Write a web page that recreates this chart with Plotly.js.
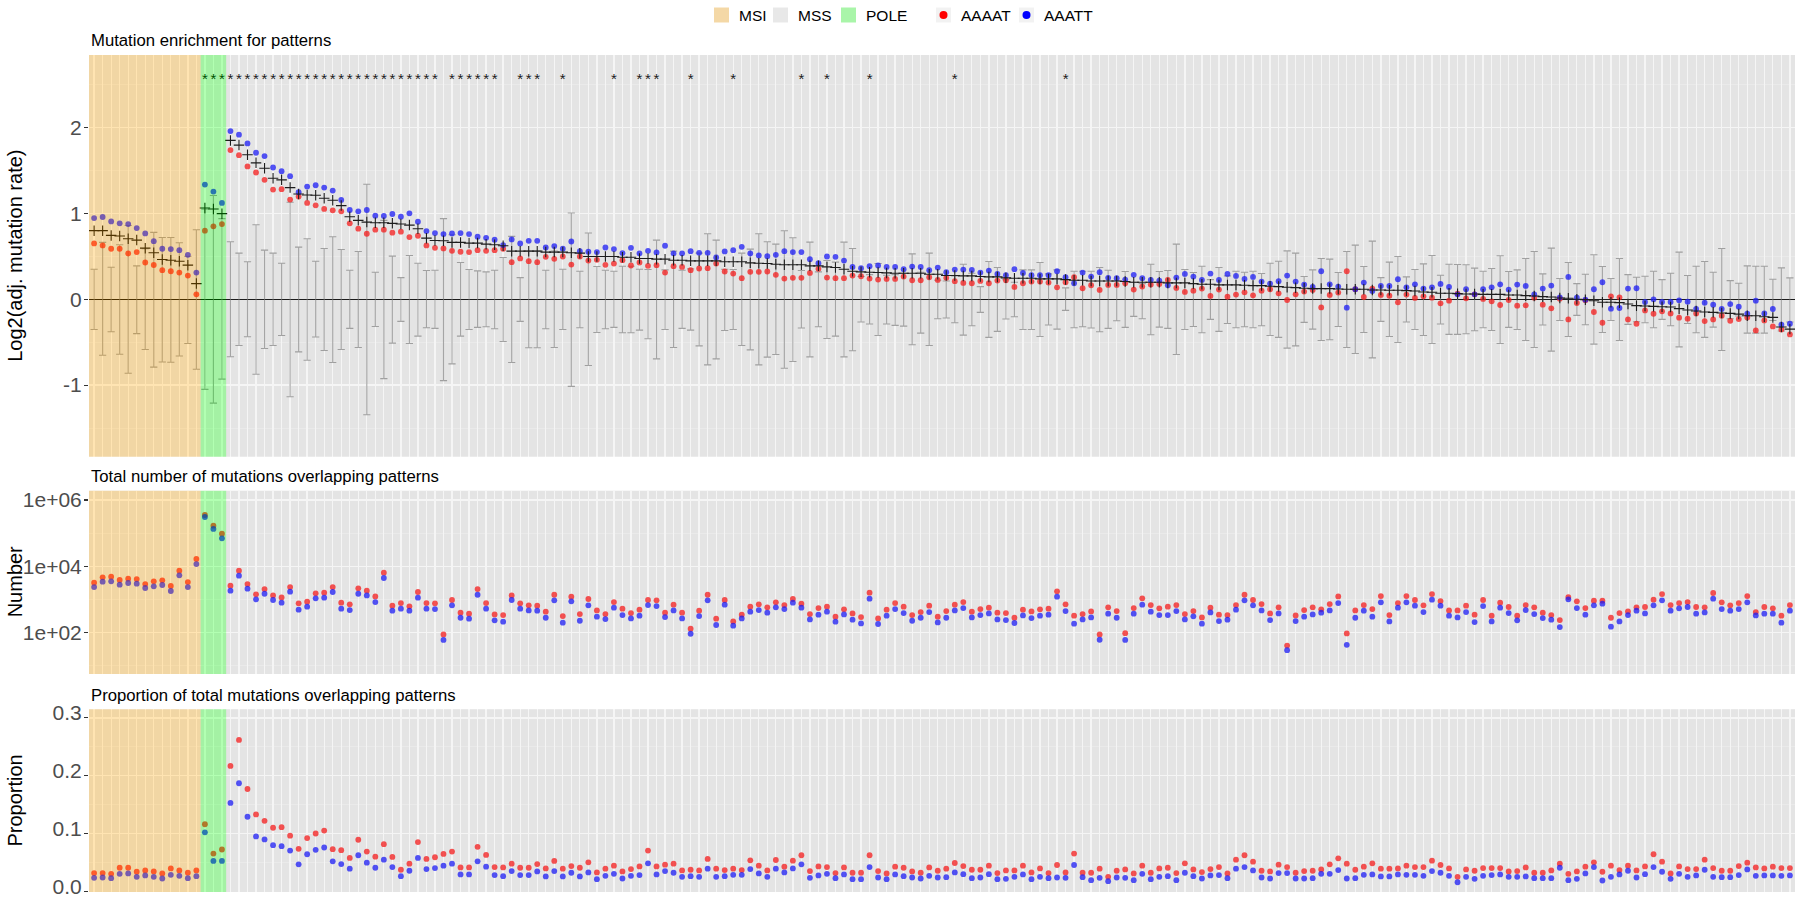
<!DOCTYPE html>
<html>
<head>
<meta charset="utf-8">
<script src="https://cdn.plot.ly/plotly-3.0.1.min.js"></script>
<style>
  html, body { margin: 0; padding: 0; background: #ffffff; }
  #chart { width: 1800px; height: 900px; }
</style>
</head>
<body>
<div id="chart"></div>
<script>
// ---------------- DATA ----------------
// Sample groups, in plotting order
const groupNames = ["MSI", "POLE", "MSS"];
const groupSizes = [13, 3, 184];
const legendGroups = ["MSI", "MSS", "POLE"];
const patterns = ["AAAAT", "AAATT"];

// Panel 1: log2(adjusted mutation rate)
const enrichAAAAT = [
  0.651,0.628,0.589,0.589,0.534,0.55,0.429,0.40,0.339,0.327,0.312,0.277,0.058,
  0.80,0.85,0.877,
  1.739,1.68,1.548,1.478,1.392,1.279,1.283,1.162,1.197,1.123,1.095,1.053,1.037,1.025,0.885,0.823,0.764,0.811,0.811,0.776,0.788,0.725,0.741,0.628,0.60,0.593,0.565,
  0.554,0.550,0.573,0.565,0.573,0.589,0.433,0.476,0.444,0.433,0.495,0.472,0.499,0.405,0.499,0.452,0.460,0.402,0.417,0.456,0.394,0.429,0.390,0.398,0.312,0.386,0.378,0.339,0.359,0.363,0.417,0.324,0.300,0.246,0.320,0.320,0.324,0.285,0.242,0.250,0.250,0.308,0.355,0.253,0.246,0.246,
  0.277,0.269,0.242,0.230,0.238,0.238,0.265,0.222,0.222,0.257,0.226,0.250,0.211,0.191,0.187,0.214,0.187,0.218,0.222,0.144,0.187,0.207,0.207,0.195,0.140,0.199,0.257,0.129,0.164,0.109,0.168,0.168,0.187,0.113,0.148,0.172,0.179,0.226,0.133,0.086,0.101,0.125,0.039,0.113,0.031,0.055,0.082,0.047,0.101,0.117,0.070,-0.008,0.058,0.090,0.109,-0.094,0.051,0.078,0.327,
  0.117,0.027,0.125,0.051,0.043,-0.035,0.055,0.016,0.035,0.019,-0.047,-0.016,0.066,0.012,0.058,0.004,-0.023,-0.066,-0.008,-0.074,-0.070,0.019,-0.062,-0.105,0.008,-0.234,-0.043,-0.012,-0.148,-0.273,0.035,0.023,-0.234,-0.285,-0.129,-0.168,-0.140,-0.164,-0.214,-0.226,-0.164,-0.253,-0.234,-0.191,-0.250,-0.230,-0.211,-0.363,-0.246,-0.316,-0.351,-0.409
];
const enrichAAATT = [
  0.947,0.959,0.908,0.885,0.877,0.83,0.768,0.678,0.589,0.585,0.573,0.519,0.312,
  1.337,1.255,1.123,
  1.961,1.918,1.817,1.708,1.669,1.536,1.493,1.435,1.248,1.314,1.329,1.302,1.267,1.158,1.041,1.025,1.041,0.975,0.971,0.994,0.963,1.002,0.904,0.795,0.772,0.76,0.768,
  0.772,0.760,0.729,0.717,0.694,0.632,0.698,0.651,0.682,0.682,0.604,0.620,0.589,0.674,0.561,0.554,0.550,0.604,0.585,0.538,0.600,0.534,0.565,0.546,0.624,0.534,0.534,0.561,0.542,0.542,0.487,0.558,0.573,0.612,0.534,0.511,0.503,0.519,0.561,0.550,0.550,0.468,0.421,0.499,0.495,0.452,
  0.378,0.363,0.386,0.394,0.378,0.378,0.351,0.382,0.378,0.339,0.370,0.316,0.347,0.347,0.343,0.312,0.335,0.296,0.281,0.351,0.308,0.281,0.281,0.281,0.327,0.257,0.187,0.312,0.265,0.316,0.250,0.246,0.230,0.285,0.246,0.226,0.218,0.164,0.253,0.296,0.265,0.226,0.300,0.226,0.296,0.273,0.238,0.261,0.207,0.183,0.211,0.277,0.207,0.172,0.144,0.327,0.175,0.148,-0.097,
  0.117,0.195,0.097,0.156,0.156,0.234,0.140,0.175,0.125,0.140,0.179,0.144,0.058,0.117,0.058,0.117,0.140,0.175,0.113,0.172,0.156,0.058,0.125,0.160,0.023,0.261,0.019,-0.004,0.117,0.199,-0.109,-0.101,0.125,0.129,-0.031,0.000,-0.031,-0.031,-0.012,-0.027,-0.113,-0.039,-0.062,-0.113,-0.055,-0.086,-0.168,-0.016,-0.164,-0.113,-0.296,-0.285
];
const enrichMean = [
  0.80,0.80,0.745,0.737,0.706,0.69,0.596,0.542,0.464,0.456,0.444,0.398,0.183,
  1.064,1.053,0.998,
  1.852,1.797,1.684,1.59,1.528,1.411,1.392,1.302,1.228,1.216,1.212,1.177,1.154,1.092,0.963,0.92,0.90,0.893,0.893,0.885,0.877,0.865,0.823,0.713,0.686,0.682,0.663,
  0.663,0.655,0.655,0.643,0.635,0.624,0.561,0.561,0.561,0.561,0.550,0.550,0.550,0.542,0.538,0.499,0.499,0.499,0.499,0.491,0.491,0.476,0.476,0.468,0.468,0.456,0.456,0.448,0.448,0.448,0.448,0.437,0.437,0.437,0.425,0.421,0.417,0.409,0.402,0.402,0.402,0.390,0.390,0.378,0.370,0.351,
  0.327,0.320,0.316,0.312,0.308,0.304,0.304,0.304,0.304,0.292,0.292,0.277,0.277,0.273,0.273,0.265,0.261,0.261,0.250,0.246,0.246,0.246,0.238,0.238,0.238,0.230,0.222,0.222,0.214,0.214,0.214,0.214,0.207,0.199,0.199,0.199,0.199,0.191,0.191,0.191,0.183,0.175,0.175,0.168,0.168,0.168,0.164,0.160,0.160,0.152,0.148,0.140,0.136,0.129,0.125,0.125,0.125,0.121,0.117,
  0.117,0.117,0.109,0.109,0.105,0.105,0.101,0.097,0.086,0.082,0.070,0.070,0.066,0.062,0.062,0.058,0.058,0.058,0.051,0.051,0.043,0.039,0.031,0.027,0.016,0.012,0.000,-0.004,-0.016,-0.035,-0.035,-0.039,-0.055,-0.074,-0.078,-0.082,-0.086,-0.090,-0.109,-0.125,-0.136,-0.148,-0.152,-0.160,-0.164,-0.172,-0.191,-0.191,-0.203,-0.211,-0.323,-0.347
];
const nullHigh = [
  0.351,0.663,0.374,0.635,0.86,0.39,0.59,0.78,0.72,0.72,0.66,0.5,0.81,
  1.05,1.21,0.94,
  0.67,0.538,0.437,0.869,0.573,0.538,0.421,1.131,0.608,0.706,0.444,0.593,0.729,0.581,0.339,0.557,1.341,0.316,0.92,0.503,0.253,0.511,0.421,0.335,0.339,0.94,0.752,
  0.429,0.347,0.331,0.320,0.339,0.487,0.733,0.253,0.565,0.565,0.339,0.561,0.351,1.006,0.327,0.772,0.382,0.339,0.327,0.386,0.386,0.351,0.347,0.690,0.343,0.561,0.339,0.355,0.538,0.764,0.690,0.351,0.347,0.538,0.585,0.764,0.671,0.643,0.799,0.717,0.335,0.667,0.320,0.452,0.433,0.667,
  0.593,0.265,0.288,0.417,0.281,0.288,0.304,0.530,0.316,0.538,0.222,0.214,0.273,0.409,0.304,0.148,0.441,0.370,0.230,0.199,0.343,0.343,0.429,0.296,0.343,0.133,0.327,0.327,0.327,0.370,0.339,0.214,0.324,0.199,0.183,0.409,0.324,0.335,0.643,0.347,0.312,0.386,0.230,0.370,0.273,0.327,0.316,0.327,0.300,0.421,0.444,0.565,0.538,0.265,0.343,0.476,0.468,0.312,0.558,
  0.632,0.382,0.678,0.253,0.433,0.499,0.261,0.347,0.413,0.511,0.281,0.409,0.405,0.402,0.363,0.327,0.359,0.507,0.324,0.343,0.476,0.558,0.296,0.596,0.242,0.429,0.183,0.292,0.519,0.382,0.242,0.476,0.288,0.257,0.269,0.327,0.230,0.304,0.550,0.277,0.386,0.441,0.316,0.593,0.218,0.187,0.390,0.386,0.386,0.234,0.366,0.250
];
const nullLow = [
  -0.351,-0.651,-0.378,-0.64,-0.862,-0.40,-0.585,-0.79,-0.73,-0.733,-0.66,-0.515,-0.815,
  -1.05,-1.21,-0.93,
  -0.67,-0.538,-0.437,-0.873,-0.573,-0.538,-0.421,-1.135,-0.612,-0.71,-0.44,-0.596,-0.737,-0.585,-0.339,-0.561,-1.345,-0.316,-0.924,-0.511,-0.257,-0.515,-0.429,-0.331,-0.339,-0.947,-0.752,
  -0.429,-0.351,-0.327,-0.320,-0.343,-0.491,-0.737,-0.257,-0.565,-0.565,-0.343,-0.561,-0.351,-1.014,-0.331,-0.772,-0.386,-0.343,-0.327,-0.390,-0.390,-0.359,-0.460,-0.694,-0.351,-0.561,-0.339,-0.359,-0.542,-0.764,-0.694,-0.363,-0.351,-0.538,-0.589,-0.764,-0.674,-0.643,-0.803,-0.725,-0.335,-0.671,-0.320,-0.456,-0.429,-0.671,
  -0.600,-0.265,-0.288,-0.421,-0.288,-0.304,-0.312,-0.530,-0.394,-0.538,-0.226,-0.218,-0.273,-0.417,-0.308,-0.152,-0.444,-0.374,-0.230,-0.203,-0.351,-0.351,-0.433,-0.300,-0.347,-0.129,-0.331,-0.320,-0.335,-0.378,-0.339,-0.250,-0.327,-0.199,-0.226,-0.413,-0.324,-0.339,-0.643,-0.351,-0.316,-0.390,-0.234,-0.374,-0.281,-0.331,-0.320,-0.331,-0.308,-0.421,-0.444,-0.569,-0.542,-0.269,-0.347,-0.480,-0.472,-0.316,-0.561,
  -0.632,-0.386,-0.682,-0.257,-0.433,-0.503,-0.265,-0.351,-0.421,-0.515,-0.288,-0.409,-0.409,-0.402,-0.366,-0.331,-0.363,-0.515,-0.327,-0.351,-0.480,-0.561,-0.300,-0.604,-0.246,-0.433,-0.187,-0.296,-0.522,-0.386,-0.246,-0.480,-0.292,-0.261,-0.273,-0.331,-0.234,-0.308,-0.554,-0.281,-0.390,-0.444,-0.324,-0.596,-0.226,-0.195,-0.394,-0.394,-0.394,-0.246,-0.370,-0.265
];
// indices of samples marked significant (*)
const significant = [13,14,15,16,17,18,19,20,21,22,23,24,25,26,27,28,29,30,31,32,33,34,35,36,37,38,39,40,
  42,43,44,45,46,47,50,51,52,55,61,64,65,66,70,75,83,86,91,101,114];

// Panel 2: total number of mutations overlapping patterns
const countAAAAT = [
  3160,4600,4820,3820,4190,4090,2890,3480,3730,2520,7310,3320,16500,352000,167000,95900,
  2580,7310,2890,1410,2040,1310,1140,2340,753,845,1510,1580,2340,788,702,2140,1820,1220,6370,640,770,611,1660,770,753,87,950,393,367,2040,770,350,334,1310,753,655,640,421,1370,312,1200,358,1020,462,
  358,826,519,384,484,950,927,393,686,393,129,452,1370,259,950,215,342,597,702,570,807,670,1020,735,358,544,597,298,496,375,291,1580,265,484,770,597,334,411,640,298,441,686,826,421,507,557,393,384,277,484,431,496,519,1740,702,319,358,431,87,570,441,95,544,1070,670,535,597,670,358,441,
  284,557,342,334,670,1370,950,719,375,570,40,326,473,570,496,719,1220,93,462,670,507,1250,334,770,1250,950,655,1440,885,462,462,640,342,950,319,788,584,319,670,570,393,334,236,1170,865,544,906,906,277,384,431,570,584,970,1440,670,770,826,584,570,1550,807,655,770,1250,411,584,535,319,670
];
const countAAATT = [
  2340,3400,3480,2760,3100,2960,2190,2460,2700,1780,5280,2340,11600,306000,133000,69300,
  1820,5160,2090,995,1470,950,788,1700,484,597,1070,1120,1660,519,473,1470,1310,826,4390,452,519,452,1120,519,507,59,655,277,259,1370,519,231,210,950,519,462,452,277,927,196,865,225,655,298,
  253,557,334,265,319,670,625,291,462,265,91,312,927,167,686,159,265,421,473,393,570,507,788,557,247,342,421,210,350,242,187,1040,179,319,507,384,225,277,411,200,277,462,544,284,334,375,247,236,192,326,271,319,342,1200,441,183,247,284,60,367,277,59,367,686,421,334,334,441,247,305,
  183,402,220,242,484,927,655,462,236,375,29,220,298,350,393,462,770,42,277,452,298,807,215,557,807,640,411,970,640,319,284,411,205,625,215,557,384,231,473,358,271,242,145,995,544,342,655,735,149,215,334,452,375,655,927,452,535,584,367,402,1040,507,452,507,807,326,367,367,196,452
];

// Panel 3: proportion of total mutations overlapping patterns
const propAAAAT = [
  .0315,.0315,.0303,.0408,.0408,.0338,.0361,.0344,.0309,.0396,.0361,.0321,.0361,.116,.0653,.0723,
  .217,.262,.177,.133,.122,.110,.111,.0962,.0735,.0921,.100,.105,.0729,.0711,.0577,.0892,.0688,.060,.0816,.0595,.0373,.0478,.0851,.056,.0589,.0647,.0688,.0414,.0414,.077,.063,.042,.0414,.0478,.0408,.0408,.0472,.0396,.0525,.0391,.0437,.0408,.0501,.0327,
  .0391,.0443,.0344,.0385,.0431,.0705,.0431,.0461,.0478,.0361,.0373,.0361,.056,.0391,.0367,.0391,.0367,.0536,.0443,.0361,.0542,.0426,.053,.0624,.035,.0431,.042,.0315,.0414,.0321,.0321,.0624,.035,.0309,.0426,.0408,.0344,.0321,.0414,.0356,.0391,.049,.0437,.0373,.0373,.0443,.0315,.0361,.0361,.0443,.0327,.0396,.0315,.0455,.0327,.0653,.0321,.0321,.0391,.0251,.0356,.0379,.0309,.0443,.0321,.0396,.0408,.0315,.0484,.0379,
  .0332,.0385,.042,.0309,.0548,.0624,.0513,.0356,.0344,.0461,.042,.0321,.035,.0356,.0379,.0466,.0571,.0478,.0373,.0426,.0484,.0391,.0391,.0396,.0443,.042,.042,.053,.0455,.0396,.0251,.0379,.0356,.0402,.0402,.0402,.0344,.035,.0414,.0321,.0321,.0361,.0478,.0303,.0344,.0426,.0501,.0338,.0443,.0367,.0443,.0361,.0431,.0641,.0513,.0309,.0431,.0385,.0385,.0548,.0402,.0356,.0356,.0437,.0496,.0414,.0396,.0426,.0402,.0402
];
const propAAATT = [
  .0233,.0239,.0227,.0303,.0309,.0251,.0274,.0251,.0222,.0286,.0268,.0227,.0262,.102,.0525,.0525,
  .153,.187,.129,.095,.0898,.0799,.0781,.0705,.0466,.0641,.0717,.0758,.0519,.0472,.0391,.0624,.0496,.0408,.0548,.042,.0262,.0356,.0577,.0385,.0402,.0443,.0478,.0292,.0292,.0519,.0426,.028,.0262,.035,.028,.028,.0344,.0257,.035,.0257,.0321,.0257,.0327,.021,
  .0268,.0303,.0222,.0268,.028,.0484,.0292,.035,.0321,.0251,.0262,.0251,.0391,.0251,.0262,.0286,.0286,.0385,.0309,.0251,.0391,.0327,.0396,.0466,.0233,.0274,.0303,.0227,.0292,.021,.021,.042,.0239,.021,.0292,.0262,.0239,.0222,.0268,.0239,.0245,.0327,.0297,.0227,.0239,.0297,.021,.0216,.0251,.0292,.021,.0251,.0227,.0239,.0233,.0455,.0245,.0192,.0233,.0175,.0239,.0233,.0192,.0303,.021,.0251,.0262,.0192,.0321,.0262,
  .0222,.0274,.028,.0227,.0391,.042,.0361,.0239,.0222,.0315,.0315,.0222,.0222,.0227,.0303,.0303,.0367,.0222,.0227,.0286,.0292,.0257,.0257,.0292,.0286,.0286,.0268,.035,.0321,.0268,.0157,.0251,.0216,.0268,.028,.0292,.0251,.0251,.0257,.0227,.0227,.0227,.0408,.0192,.0216,.0309,.042,.0187,.0251,.0292,.0356,.0239,.0297,.042,.0338,.0216,.0303,.0251,.0274,.0373,.0251,.0245,.0245,.028,.0379,.0268,.0274,.0274,.0268,.0274
];

const panelTitles = ["Mutation enrichment for patterns",
  "Total number of mutations overlapping patterns",
  "Proportion of total mutations overlapping patterns"];
const axisTitles = ["Log2(adj. mutation rate)", "Number", "Proportion"];

// ---------------- BUILD ----------------
const N = enrichAAAAT.length;
[enrichAAATT, enrichMean, nullHigh, nullLow, countAAAAT, countAAATT, propAAAAT, propAAATT].forEach((a, k) => {
  if (a.length !== N) console.warn('length mismatch', k, a.length, N);
});
const idx = Array.from({length: N}, (_, i) => i);

const FONT = "Liberation Sans, Arial, Helvetica, sans-serif";
const RED = "#FF0000", BLUE = "#0000FF";
const PT_ALPHA = 0.75, PT_SIZE = 5.8;
const groupFill = {MSI: "rgba(255,165,0,0.3)", MSS: "rgba(190,190,190,0.15)", POLE: "rgba(0,255,0,0.3)"};
const groupKey = {MSI: "rgb(244,216,166)", MSS: "rgb(232,232,232)", POLE: "rgb(169,245,169)"};

const X_LO = -0.6, X_HI = N - 1 + 0.6;

// geometry (pixels -> paper)
const W = 1800, H = 900, ML = 89, MR = 5, MT = 55, MB = 8;
const PH = H - MT - MB, PW = W - ML - MR;
const py = p => (H - MB - p) / PH;     // pixel y -> paper y
const px = p => (p - ML) / PW;         // pixel x -> paper x

const traces = [];
// Panel 1
traces.push({
  x: idx, y: nullLow, type: "scatter", mode: "markers", xaxis: "x", yaxis: "y",
  marker: {opacity: 0, size: 2}, showlegend: false, hoverinfo: "skip",
  error_y: {type: "data", symmetric: false, array: nullHigh.map((h, i) => h - nullLow[i]),
            arrayminus: nullLow.map(() => 0), color: "rgba(110,110,110,0.65)", thickness: 1.1, width: 3.6}
});
traces.push({x: idx, y: enrichAAAAT, type: "scatter", mode: "markers", xaxis: "x", yaxis: "y", name: patterns[0],
  marker: {color: RED, size: PT_SIZE, opacity: PT_ALPHA}, showlegend: false});
traces.push({x: idx, y: enrichAAATT, type: "scatter", mode: "markers", xaxis: "x", yaxis: "y", name: patterns[1],
  marker: {color: BLUE, size: PT_SIZE, opacity: PT_ALPHA}, showlegend: false});
traces.push({x: idx, y: enrichMean, type: "scatter", mode: "markers", xaxis: "x", yaxis: "y", name: "mean",
  marker: {symbol: "cross-thin-open", size: 7.5, color: "black", line: {color: "black", width: 1.1}}, showlegend: false});
traces.push({x: significant, y: significant.map(() => 2.555), type: "scatter", mode: "text", xaxis: "x", yaxis: "y",
  text: significant.map(() => "*"), textfont: {family: FONT, size: 15, color: "black"}, textposition: "middle center",
  showlegend: false, hoverinfo: "skip"});
// Panel 2
traces.push({x: idx, y: countAAAAT, type: "scatter", mode: "markers", xaxis: "x2", yaxis: "y2", name: patterns[0],
  marker: {color: RED, size: PT_SIZE, opacity: PT_ALPHA}, showlegend: false});
traces.push({x: idx, y: countAAATT, type: "scatter", mode: "markers", xaxis: "x2", yaxis: "y2", name: patterns[1],
  marker: {color: BLUE, size: PT_SIZE, opacity: PT_ALPHA}, showlegend: false});
// Panel 3
traces.push({x: idx, y: propAAAAT, type: "scatter", mode: "markers", xaxis: "x3", yaxis: "y3", name: patterns[0],
  marker: {color: RED, size: PT_SIZE, opacity: PT_ALPHA}, showlegend: false});
traces.push({x: idx, y: propAAATT, type: "scatter", mode: "markers", xaxis: "x3", yaxis: "y3", name: patterns[1],
  marker: {color: BLUE, size: PT_SIZE, opacity: PT_ALPHA}, showlegend: false});

// Group background spans (drawn above, translucent, like the reference)
const shapes = [];
let start = 0;
const spans = [];
groupNames.forEach((g, k) => {
  const x0 = start === 0 ? X_LO : start - 0.5;
  const end = start + groupSizes[k];
  const x1 = end >= N ? X_HI : end - 0.5;
  spans.push({g, x0, x1});
  start = end;
});
["", "2", "3"].forEach(s => {
  spans.forEach(sp => shapes.push({
    type: "rect", xref: "x" + s, yref: "y" + s + " domain", x0: sp.x0, x1: sp.x1, y0: 0, y1: 1,
    fillcolor: groupFill[sp.g], line: {width: 0}, layer: "above"}));
});

// Legend (drawn as keys + text in the top margin)
const annotations = [];
const LEG_Y = 15, KEY = 15;
const legendKeyX = [714, 773, 841];       // left edges of fill keys (px)
const legendDotX = [936, 1019];           // left edges of point keys (px)
const legendFont = {family: FONT, size: 15.5, color: "#000"};
legendGroups.forEach((g, k) => {
  shapes.push({type: "rect", xref: "paper", yref: "paper",
    x0: px(legendKeyX[k]), x1: px(legendKeyX[k] + KEY), y0: py(LEG_Y + KEY / 2), y1: py(LEG_Y - KEY / 2),
    fillcolor: groupKey[g], line: {width: 0}, layer: "above"});
  annotations.push({text: g, xref: "paper", yref: "paper", x: px(legendKeyX[k] + KEY + 8), y: py(LEG_Y),
    xanchor: "left", yanchor: "middle", showarrow: false, font: legendFont});
});
patterns.forEach((p, k) => {
  const x0 = legendDotX[k];
  shapes.push({type: "rect", xref: "paper", yref: "paper",
    x0: px(x0), x1: px(x0 + KEY), y0: py(LEG_Y + KEY / 2), y1: py(LEG_Y - KEY / 2),
    fillcolor: "#F2F2F2", line: {width: 0}, layer: "above"});
  shapes.push({type: "circle", xref: "paper", yref: "paper",
    x0: px(x0 + KEY / 2 - 4), x1: px(x0 + KEY / 2 + 4), y0: py(LEG_Y + 4), y1: py(LEG_Y - 4),
    fillcolor: k === 0 ? RED : BLUE, line: {width: 0}, layer: "above"});
  annotations.push({text: p, xref: "paper", yref: "paper", x: px(x0 + KEY + 8), y: py(LEG_Y),
    xanchor: "left", yanchor: "middle", showarrow: false, font: legendFont});
});

const xCommon = {
  range: [X_LO, X_HI], tickmode: "linear", tick0: 0, dtick: 1, showticklabels: false, ticks: "",
  showgrid: true, gridcolor: "#FFFFFF", gridwidth: 1.3, zeroline: false, showline: false, fixedrange: true
};
const yCommon = {
  ticks: "outside", ticklen: 4, tickwidth: 1.1, tickcolor: "#333333",
  tickfont: {family: FONT, size: 21, color: "#4D4D4D"}, ticklabeloverflow: "allow", ticklabelstandoff: -2,
  showgrid: true, gridcolor: "#FFFFFF", gridwidth: 1.3, showline: false, fixedrange: true
};
const minorGrid = vals => ({tickmode: "array", tickvals: vals, showgrid: true, gridcolor: "rgba(255,255,255,0.55)", gridwidth: 0.7, ticks: ""});

const titleFont = {family: FONT, size: 16.7, color: "#000"};
const axisFont = {family: FONT, size: 20, color: "#000"};
annotations.push(
  {text: panelTitles[0], xref: "paper", yref: "paper", x: 0, y: py(40.7), xanchor: "left", yanchor: "middle", showarrow: false, font: titleFont},
  {text: panelTitles[1], xref: "paper", yref: "paper", x: 0, y: py(476.7), xanchor: "left", yanchor: "middle", showarrow: false, font: titleFont},
  {text: panelTitles[2], xref: "paper", yref: "paper", x: 0, y: py(695), xanchor: "left", yanchor: "middle", showarrow: false, font: titleFont},
  {text: axisTitles[0], xref: "paper", yref: "paper", x: px(15), y: py((55 + 456.7) / 2), xanchor: "center", yanchor: "middle", textangle: -90, showarrow: false, font: axisFont},
  {text: axisTitles[1], xref: "paper", yref: "paper", x: px(15), y: py((490.7 + 674) / 2), xanchor: "center", yanchor: "middle", textangle: -90, showarrow: false, font: axisFont},
  {text: axisTitles[2], xref: "paper", yref: "paper", x: px(15), y: py((709.2 + 892) / 2), xanchor: "center", yanchor: "middle", textangle: -90, showarrow: false, font: axisFont}
);

const layout = {
  width: W, height: H,
  margin: {l: ML, r: MR, t: MT, b: MB},
  paper_bgcolor: "#FFFFFF", plot_bgcolor: "#EBEBEB",
  font: {family: FONT, color: "#000000"},
  showlegend: false,
  xaxis: Object.assign({}, xCommon, {anchor: "y", domain: [0, 1]}),
  xaxis2: Object.assign({}, xCommon, {anchor: "y2", domain: [0, 1], matches: "x"}),
  xaxis3: Object.assign({}, xCommon, {anchor: "y3", domain: [0, 1], matches: "x"}),
  yaxis: Object.assign({}, yCommon, {
    domain: [py(456.7), 1], range: [-1.834, 2.847],
    tickmode: "array", tickvals: [-1, 0, 1, 2], ticktext: ["-1", "0", "1", "2"],
    zeroline: true, zerolinecolor: "#000000", zerolinewidth: 1.1,
    minor: minorGrid([-1.5, -0.5, 0.5, 1.5, 2.5])
  }),
  yaxis2: Object.assign({}, yCommon, {
    domain: [py(674), py(490.7)], type: "log", range: [0.743, 6.28],
    tickmode: "array", tickvals: [1e2, 1e4, 1e6], ticktext: ["1e+02", "1e+04", "1e+06"],
    zeroline: false, minor: minorGrid([1e1, 1e3, 1e5])
  }),
  yaxis3: Object.assign({}, yCommon, {
    domain: [0, py(709.2)], range: [-0.0012, 0.3151],
    tickmode: "array", tickvals: [0, 0.1, 0.2, 0.3], ticktext: ["0.0", "0.1", "0.2", "0.3"],
    ticklabelshift: -5,
    zeroline: false, minor: minorGrid([0.05, 0.15, 0.25])
  }),
  shapes: shapes,
  annotations: annotations
};

Plotly.newPlot("chart", traces, layout, {staticPlot: true, displayModeBar: false});
</script>
</body>
</html>
